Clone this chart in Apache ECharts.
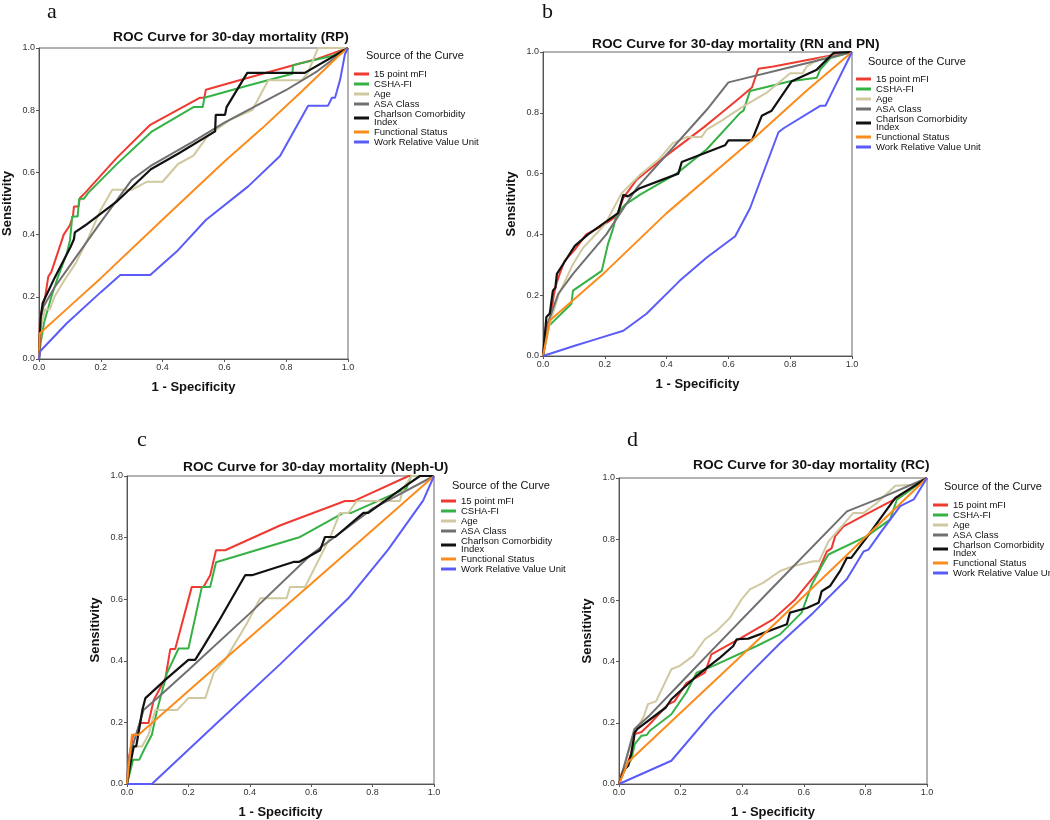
<!DOCTYPE html>
<html>
<head>
<meta charset="utf-8">
<title>ROC Curves for 30-day mortality</title>
<script src="https://cdn.jsdelivr.net/npm/echarts@6/dist/echarts.min.js"></script>
<style>
  html, body { margin: 0; padding: 0; background: #fff; }
  #roc { width: 1050px; height: 820px; }
</style>
</head>
<body>
<div id="roc"></div>
<script>
/************************************ 数据 *******************************/
var curveNames = ['15 point mFI', 'CSHA-FI', 'Age', 'ASA Class', 'Charlson Comorbidity Index', 'Functional Status', 'Work Relative Value Unit'];
var panelLetters = ['a', 'b', 'c', 'd'];
var panelTitles = [
  'ROC Curve for 30-day mortality (RP)',
  'ROC Curve for 30-day mortality (RN and PN)',
  'ROC Curve for 30-day mortality (Neph-U)',
  'ROC Curve for 30-day mortality (RC)'
];
var legendTitle = 'Source of the Curve';
var xAxisName = '1 - Specificity', yAxisName = 'Sensitivity';

// a - RP   [1-specificity, sensitivity]
var rpMfi = [[0,0],[0.003,0.13],[0.02,0.2],[0.03,0.265],[0.04,0.28],[0.08,0.4],[0.1,0.43],[0.11,0.46],[0.113,0.49],[0.128,0.49],[0.132,0.517],[0.15,0.535],[0.25,0.645],[0.36,0.753],[0.52,0.84],[0.535,0.84],[0.54,0.866],[0.68,0.905],[0.82,0.944],[0.9,0.965],[0.97,0.99],[1,1]];
var rpCsha = [[0,0],[0.005,0.05],[0.016,0.115],[0.04,0.2],[0.06,0.26],[0.09,0.34],[0.1,0.38],[0.105,0.43],[0.107,0.458],[0.125,0.458],[0.13,0.515],[0.145,0.515],[0.16,0.535],[0.25,0.625],[0.366,0.732],[0.5,0.81],[0.53,0.81],[0.535,0.84],[0.68,0.88],[0.82,0.917],[0.822,0.945],[0.95,0.975],[1,1]];
var rpAge = [[0,0],[0.005,0.1],[0.02,0.16],[0.035,0.16],[0.05,0.2],[0.08,0.25],[0.12,0.31],[0.16,0.39],[0.2,0.48],[0.237,0.544],[0.3,0.544],[0.35,0.57],[0.4,0.57],[0.45,0.627],[0.5,0.654],[0.548,0.72],[0.62,0.77],[0.69,0.8],[0.742,0.896],[0.85,0.896],[0.87,0.92],[0.903,1],[1,1]];
var rpAsa = [[0,0],[0.005,0.13],[0.015,0.17],[0.05,0.23],[0.1,0.3],[0.2,0.44],[0.3,0.576],[0.36,0.62],[0.5,0.7],[0.6,0.76],[0.8,0.865],[0.9,0.925],[1,1]];
var rpCci = [[0,0],[0.005,0.13],[0.012,0.18],[0.05,0.26],[0.102,0.36],[0.113,0.385],[0.116,0.407],[0.15,0.43],[0.25,0.505],[0.362,0.61],[0.45,0.66],[0.57,0.732],[0.572,0.785],[0.602,0.785],[0.607,0.81],[0.674,0.92],[0.86,0.92],[1,1]];
var rpFunc = [[0,0],[0.003,0.083],[0.1,0.17],[0.2,0.26],[0.42,0.467],[0.6,0.635],[0.72,0.74],[0.85,0.86],[0.97,0.975],[1,1]];
var rpRvu = [[0,0],[0.003,0.024],[0.09,0.115],[0.2,0.215],[0.263,0.27],[0.36,0.27],[0.45,0.35],[0.54,0.447],[0.677,0.555],[0.78,0.653],[0.871,0.814],[0.935,0.814],[0.948,0.84],[0.958,0.84],[0.975,0.9],[0.99,0.98],[1,1]];

// b - RN and PN
var rnMfi = [[0,0],[0.01,0.1],[0.025,0.128],[0.035,0.2],[0.043,0.237],[0.054,0.27],[0.07,0.313],[0.103,0.35],[0.14,0.4],[0.19,0.427],[0.238,0.46],[0.26,0.52],[0.303,0.58],[0.4,0.66],[0.52,0.752],[0.573,0.796],[0.638,0.85],[0.676,0.883],[0.697,0.945],[0.746,0.952],[0.919,0.986],[1,1]];
var rnCsha = [[0,0],[0.02,0.1],[0.092,0.172],[0.097,0.215],[0.19,0.28],[0.21,0.367],[0.227,0.42],[0.238,0.465],[0.265,0.497],[0.313,0.53],[0.432,0.6],[0.53,0.68],[0.638,0.8],[0.649,0.807],[0.67,0.872],[0.8,0.904],[0.886,0.915],[0.897,0.942],[0.93,0.98],[1,1]];
var rnAge = [[0,0],[0.02,0.1],[0.05,0.2],[0.097,0.302],[0.13,0.356],[0.2,0.432],[0.254,0.535],[0.313,0.595],[0.378,0.65],[0.42,0.7],[0.465,0.72],[0.513,0.72],[0.53,0.745],[0.578,0.774],[0.643,0.818],[0.724,0.866],[0.757,0.894],[0.8,0.93],[0.84,0.93],[0.854,0.953],[0.89,0.975],[1,1]];
var rnAsa = [[0,0],[0.02,0.12],[0.049,0.204],[0.097,0.27],[0.205,0.4],[0.303,0.552],[0.53,0.81],[0.6,0.9],[0.8,0.95],[1,1]];
var rnCci = [[0,0],[0.011,0.128],[0.022,0.14],[0.032,0.215],[0.04,0.225],[0.045,0.27],[0.07,0.31],[0.103,0.362],[0.146,0.4],[0.243,0.47],[0.26,0.53],[0.275,0.525],[0.313,0.552],[0.438,0.6],[0.449,0.638],[0.589,0.693],[0.6,0.709],[0.676,0.709],[0.708,0.79],[0.74,0.807],[0.805,0.904],[0.886,0.942],[0.94,0.997],[1,1]];
var rnFunc = [[0,0],[0.022,0.117],[0.2,0.275],[0.4,0.47],[0.67,0.705],[0.85,0.87],[1,1]];
var rnRvu = [[0,0],[0.1,0.033],[0.18,0.058],[0.26,0.083],[0.335,0.139],[0.443,0.248],[0.53,0.324],[0.622,0.394],[0.67,0.486],[0.762,0.736],[0.78,0.75],[0.897,0.823],[0.914,0.823],[0.94,0.877],[1,1]];

// c - Neph-U
var neMfi = [[0,0],[0.005,0.079],[0.02,0.16],[0.03,0.16],[0.043,0.198],[0.07,0.198],[0.087,0.273],[0.125,0.343],[0.141,0.438],[0.157,0.438],[0.211,0.64],[0.249,0.64],[0.271,0.678],[0.29,0.759],[0.32,0.759],[0.5,0.84],[0.71,0.919],[0.74,0.919],[0.917,1],[1,1]];
var neCsha = [[0,0],[0.01,0.04],[0.02,0.079],[0.04,0.079],[0.06,0.12],[0.081,0.16],[0.098,0.24],[0.13,0.36],[0.168,0.44],[0.2,0.44],[0.244,0.64],[0.271,0.64],[0.29,0.72],[0.564,0.802],[0.705,0.88],[0.73,0.88],[0.91,0.96],[0.925,1],[1,1]];
var neAge = [[0,0],[0.01,0.08],[0.02,0.122],[0.049,0.122],[0.07,0.16],[0.092,0.24],[0.163,0.24],[0.2,0.279],[0.255,0.279],[0.282,0.36],[0.32,0.403],[0.39,0.52],[0.434,0.603],[0.52,0.603],[0.531,0.64],[0.58,0.64],[0.662,0.802],[0.694,0.88],[0.721,0.88],[0.748,0.919],[0.889,0.919],[0.9,0.96],[0.927,1],[1,1]];
var neAsa = [[0,0],[0.005,0.08],[0.054,0.24],[0.1,0.28],[0.2,0.37],[0.4,0.554],[0.6,0.745],[0.8,0.894],[1,1]];
var neCci = [[0,0],[0.01,0.06],[0.022,0.122],[0.03,0.122],[0.043,0.198],[0.05,0.24],[0.06,0.279],[0.13,0.343],[0.2,0.403],[0.222,0.403],[0.249,0.446],[0.298,0.527],[0.34,0.6],[0.385,0.678],[0.407,0.678],[0.542,0.721],[0.56,0.721],[0.629,0.759],[0.645,0.802],[0.678,0.802],[0.77,0.88],[0.786,0.88],[0.895,0.959],[0.954,1],[1,1]];
var neFunc = [[0,0],[0.016,0.16],[0.038,0.16],[0.3,0.39],[0.6,0.65],[0.8,0.825],[1,1]];
var neRvu = [[0,0],[0.081,0],[0.293,0.198],[0.5,0.39],[0.721,0.603],[0.85,0.76],[0.965,0.921],[1,1]];

// d - RC
var rcMfi = [[0,0],[0.01,0.04],[0.02,0.05],[0.04,0.1],[0.051,0.163],[0.073,0.17],[0.1,0.196],[0.159,0.26],[0.18,0.27],[0.219,0.33],[0.279,0.364],[0.3,0.424],[0.398,0.478],[0.5,0.538],[0.572,0.603],[0.647,0.696],[0.675,0.76],[0.69,0.77],[0.702,0.81],[0.729,0.842],[0.8,0.88],[0.913,0.94],[1,1]];
var rcCsha = [[0,0],[0.02,0.05],[0.04,0.08],[0.051,0.13],[0.073,0.158],[0.09,0.16],[0.1,0.174],[0.17,0.228],[0.219,0.3],[0.252,0.364],[0.306,0.386],[0.447,0.451],[0.523,0.489],[0.593,0.56],[0.626,0.652],[0.664,0.723],[0.68,0.75],[0.805,0.81],[0.88,0.864],[0.902,0.929],[1,1]];
var rcAge = [[0,0],[0.02,0.07],[0.056,0.18],[0.08,0.22],[0.094,0.261],[0.12,0.27],[0.17,0.375],[0.197,0.386],[0.24,0.418],[0.279,0.473],[0.317,0.5],[0.36,0.543],[0.398,0.603],[0.425,0.636],[0.469,0.658],[0.523,0.696],[0.566,0.712],[0.631,0.728],[0.65,0.728],[0.68,0.793],[0.723,0.842],[0.761,0.886],[0.794,0.886],[0.837,0.918],[0.897,0.975],[0.96,0.978],[1,1]];
var rcAsa = [[0,0],[0.02,0.07],[0.05,0.18],[0.1,0.225],[0.2,0.33],[0.3,0.435],[0.5,0.643],[0.74,0.891],[0.85,0.935],[1,1]];
var rcCci = [[0,0],[0.01,0.03],[0.02,0.05],[0.03,0.06],[0.04,0.1],[0.051,0.168],[0.06,0.18],[0.152,0.25],[0.17,0.277],[0.252,0.353],[0.328,0.413],[0.371,0.451],[0.382,0.473],[0.42,0.475],[0.545,0.522],[0.555,0.56],[0.61,0.575],[0.648,0.592],[0.658,0.63],[0.685,0.647],[0.72,0.7],[0.74,0.739],[0.754,0.739],[0.8,0.8],[0.897,0.935],[1,1]];
var rcFunc = [[0,0],[0.029,0.071],[0.398,0.42],[0.7,0.71],[1,1]];
var rcRvu = [[0,0],[0.17,0.076],[0.3,0.23],[0.414,0.35],[0.523,0.46],[0.631,0.56],[0.74,0.67],[0.794,0.76],[0.81,0.766],[0.848,0.82],[0.913,0.908],[0.957,0.93],[1,1]];

var panelCurves = [
  [rpMfi, rpCsha, rpAge, rpAsa, rpCci, rpFunc, rpRvu],
  [rnMfi, rnCsha, rnAge, rnAsa, rnCci, rnFunc, rnRvu],
  [neMfi, neCsha, neAge, neAsa, neCci, neFunc, neRvu],
  [rcMfi, rcCsha, rcAge, rcAsa, rcCci, rcFunc, rcRvu]
];

/************************************ 样式 / 布局 *******************************/
var curveColors = ['#ef3a31', '#35b145', '#d0c9a0', '#707070', '#111111', '#fb8c1c', '#5b5cf8'];
var gridPos = [
  {left: 38, top: 48, width: 310, height: 311},
  {left: 543, top: 52, width: 309, height: 304},
  {left: 127, top: 476, width: 307, height: 308},
  {left: 619, top: 478, width: 308, height: 307}
];
var letterPos = [[47, 1], [542, 1], [137, 429], [627, 429]];
var titlePos = [[113, 30], [592, 37], [183, 460], [693, 458]];
var legendTitlePos = [[366, 50], [868, 56], [452, 480], [944, 481]];
var legendPos = [[354, 69], [856, 74], [441, 496], [933, 500]];
var fontSans = 'Liberation Sans, Arial, sans-serif';

var roc = echarts.init(document.getElementById('roc'));

var getOption = function () {
  var titles = [], legends = [], grids = [], xAxes = [], yAxes = [], series = [];
  for (var i = 0; i < 4; i++) {
    titles.push({
      text: panelLetters[i], left: letterPos[i][0], top: letterPos[i][1], padding: 0,
      textStyle: {fontFamily: 'Liberation Serif, Times New Roman, serif', fontSize: 22, fontWeight: 'normal', color: '#111'}
    });
    titles.push({
      text: panelTitles[i], left: titlePos[i][0], top: titlePos[i][1], padding: 0,
      textStyle: {fontFamily: fontSans, fontSize: 13.7, fontWeight: 'bold', color: '#111'}
    });
    titles.push({
      text: legendTitle, left: legendTitlePos[i][0], top: legendTitlePos[i][1], padding: 0,
      textStyle: {fontFamily: fontSans, fontSize: 11, fontWeight: 'normal', color: '#111'}
    });
    // 图例：单行10px，两行的Charlson约19px
    legends.push({
      data: curveNames, orient: 'vertical', left: legendPos[i][0], top: legendPos[i][1],
      padding: 0, itemGap: 0, itemWidth: 15, itemHeight: 3, icon: 'rect', selectedMode: false,
      formatter: function (name) {
        return name === 'Charlson Comorbidity Index' ? 'Charlson Comorbidity\nIndex' : name;
      },
      textStyle: {fontFamily: fontSans, fontSize: 9.5, lineHeight: 8, color: '#111'}
    });
    grids.push({
      left: gridPos[i].left, top: gridPos[i].top, width: gridPos[i].width, height: gridPos[i].height,
      show: true, borderColor: '#666', borderWidth: 1, backgroundColor: '#fff'
    });
    var axisBase = {
      gridIndex: i, type: 'value', min: 0, max: 1, interval: 0.2,
      nameLocation: 'middle',
      nameTextStyle: {fontFamily: fontSans, fontSize: 13, fontWeight: 'bold', color: '#111'},
      axisLine: {show: true, lineStyle: {color: '#555', width: 1}},
      axisTick: {show: true, length: 3, lineStyle: {color: '#555'}},
      axisLabel: {fontFamily: fontSans, fontSize: 9, color: '#333', margin: 4,
        formatter: function (v) { return v.toFixed(1); }},
      splitLine: {show: false}
    };
    xAxes.push(Object.assign({}, axisBase, {name: xAxisName, nameGap: 22}));
    yAxes.push(Object.assign({}, axisBase, {name: yAxisName, nameGap: 25}));
    for (var j = 0; j < curveNames.length; j++) {
      series.push({
        type: 'line', name: curveNames[j], xAxisIndex: i, yAxisIndex: i,
        data: panelCurves[i][j], symbol: 'none', showSymbol: false, animation: false,
        itemStyle: {color: curveColors[j]},
        lineStyle: {color: curveColors[j], width: j === 4 ? 2.2 : 2},
        emphasis: {disabled: true}
      });
    }
  }
  return {
    backgroundColor: '#fff',
    animation: false,
    textStyle: {fontFamily: fontSans},
    title: titles,
    legend: legends,
    grid: grids,
    xAxis: xAxes,
    yAxis: yAxes,
    series: series
  };
};

roc.setOption(getOption());
</script>
</body>
</html>
